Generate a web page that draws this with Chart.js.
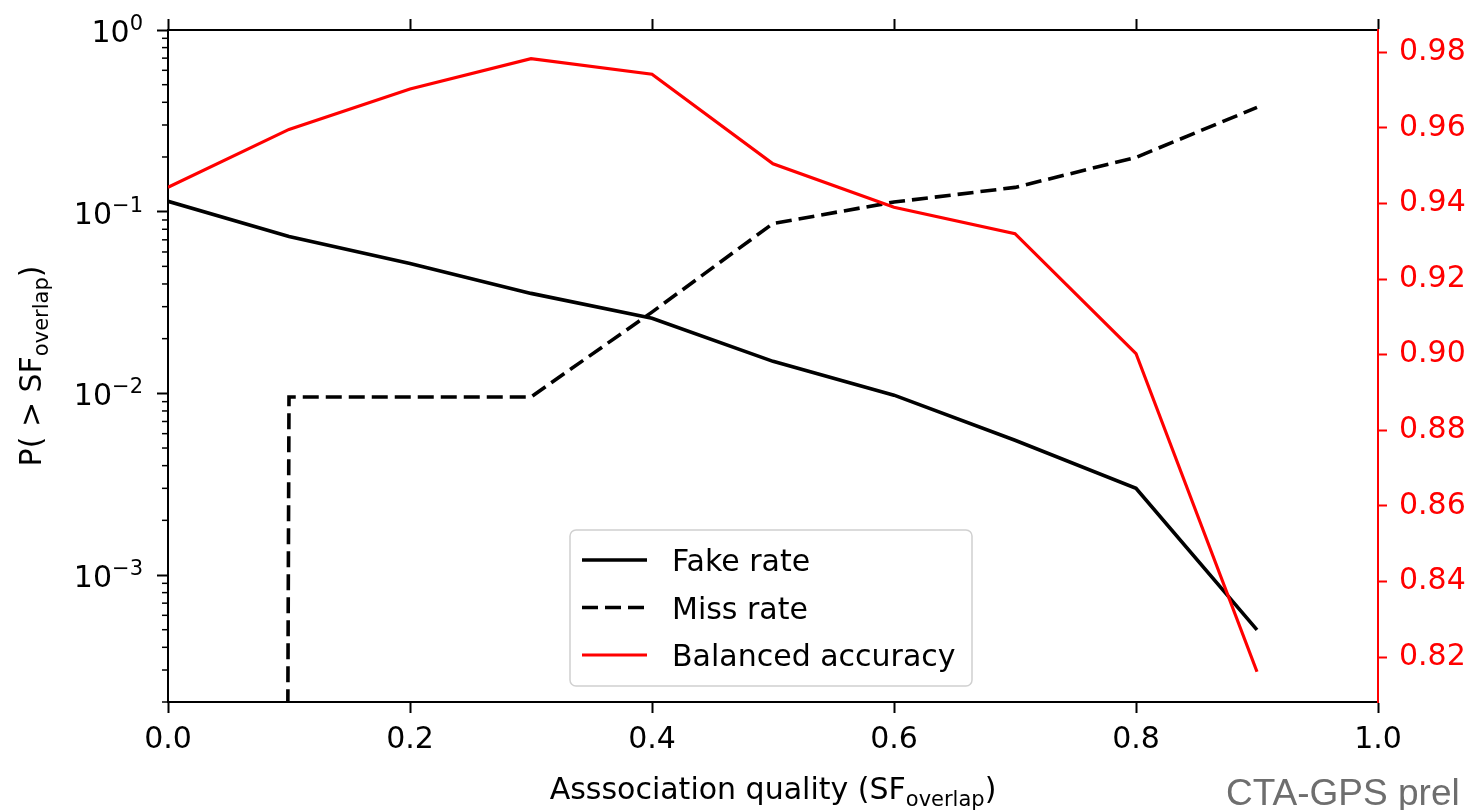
<!DOCTYPE html>
<html>
<head>
<meta charset="utf-8">
<script src="https://cdn.jsdelivr.net/npm/chart.js@4.4.0/dist/chart.umd.min.js"></script>
<style>
  html, body { margin: 0; padding: 0; background: #fff; overflow: hidden; }
  #wrap { position: relative; width: 1468px; height: 810px; }
</style>
</head>
<body>
<div id="wrap"><canvas id="chart"></canvas></div>
<script>
// association quality threshold (x)
const sfOverlap = [0.0, 0.1, 0.2, 0.3, 0.4, 0.5, 0.6, 0.7, 0.8, 0.9];
// left axis, log: P(> SF_overlap)
const fakeRate = [0.114, 0.0731, 0.0519, 0.0355, 0.0259, 0.0150, 0.00977, 0.00552, 0.0030, 0.000499];
const missRate = [0, 0.00955, 0.00955, 0.00955, 0.028, 0.0861, 0.113, 0.136, 0.199, 0.375];
// right axis: balanced accuracy
const balancedAccuracy = [0.9443, 0.9596, 0.9703, 0.9783, 0.9742, 0.9505, 0.9390, 0.9320, 0.9003, 0.8161];

// ticks
const xTicks = [0, 0.2, 0.4, 0.6, 0.8, 1.0];
const logTicks = [1e-3, 1e-2, 1e-1, 1];
const accTicks = [0.82, 0.84, 0.86, 0.88, 0.90, 0.92, 0.94, 0.96, 0.98];

const FONT = '"DejaVu Sans", sans-serif';
Chart.defaults.font.family = FONT;
Chart.defaults.font.size = 30;
Chart.defaults.color = '#000';

// zero is off a log axis: push it far below so the line drops out of the frame (like mpl clip)
const pts = (ys) => sfOverlap.map((x, i) => ({x: x, y: ys[i] > 0 ? ys[i] : 1e-300}));

function setTicks(list) {
  return (scale) => { scale.ticks = list.map(v => ({value: v})); };
}

// text with a subscript part
function drawSub(ctx, main, sub, tail, x, y) {
  ctx.font = '30px ' + FONT;
  const w1 = ctx.measureText(main).width;
  const w3 = ctx.measureText(tail).width;
  ctx.font = '21px ' + FONT;
  const w2 = ctx.measureText(sub).width;
  let cx = x - (w1 + w2 + w3) / 2;
  ctx.textAlign = 'left';
  ctx.textBaseline = 'alphabetic';
  ctx.font = '30px ' + FONT;
  ctx.fillText(main, cx, y);
  cx += w1;
  ctx.font = '21px ' + FONT;
  ctx.fillText(sub, cx, y + 7);
  cx += w2;
  ctx.font = '30px ' + FONT;
  ctx.fillText(tail, cx, y);
}

const decor = {
  id: 'decor',
  afterDraw(chart) {
    const ctx = chart.ctx;
    const a = chart.chartArea;
    const ys = chart.scales.y;
    ctx.save();

    // minor ticks of the log axis
    ctx.strokeStyle = '#000';
    ctx.lineWidth = 1.5;
    for (let e = -4; e < 0; e++) {
      for (let m = 2; m <= 9; m++) {
        const v = m * Math.pow(10, e);
        if (v < ys.min * 0.999 || v > ys.max) continue;
        const py = ys.getPixelForValue(v);
        ctx.beginPath();
        ctx.moveTo(a.left - 6, py);
        ctx.lineTo(a.left, py);
        ctx.stroke();
      }
    }

    // log tick labels 10^k with a real superscript
    ctx.fillStyle = '#000';
    ctx.textAlign = 'left';
    ctx.textBaseline = 'alphabetic';
    ys.ticks.forEach(t => {
      const e = Math.round(Math.log10(t.value));
      const sup = e === 0 ? '0' : '\u2212' + Math.abs(e);
      const py = ys.getPixelForValue(t.value);
      ctx.font = '21px ' + FONT;
      const ws = ctx.measureText(sup).width;
      ctx.font = '30px ' + FONT;
      const wm = ctx.measureText('10').width;
      const right = a.left - 11 - 14;
      ctx.fillText('10', right - ws - wm, py + 12);
      ctx.font = '21px ' + FONT;
      ctx.fillText(sup, right - ws, py);
    });

    // axis titles
    drawSub(ctx, 'Asssociation quality (SF', 'overlap', ')', (a.left + a.right) / 2, 799);
    ctx.save();
    ctx.translate(41, (a.top + a.bottom) / 2);
    ctx.rotate(-Math.PI / 2);
    drawSub(ctx, 'P( > SF', 'overlap', ')', 0, 0);
    ctx.restore();

    // legend
    const bx = 570, by = 530, bw = 402, bh = 156;
    ctx.beginPath();
    ctx.roundRect(bx, by, bw, bh, 6);
    ctx.fillStyle = 'rgba(255,255,255,0.8)';
    ctx.fill();
    ctx.strokeStyle = '#d0d0d0';
    ctx.lineWidth = 1.5;
    ctx.stroke();
    chart.data.datasets.forEach((ds, i) => {
      const ry = 560 + i * 47.5;
      ctx.beginPath();
      ctx.setLineDash(ds.borderDash || []);
      ctx.strokeStyle = ds.borderColor;
      ctx.lineWidth = ds.borderWidth;
      ctx.moveTo(582, ry);
      ctx.lineTo(647, ry);
      ctx.stroke();
      ctx.setLineDash([]);
      ctx.fillStyle = '#000';
      ctx.font = '30px ' + FONT;
      ctx.textAlign = 'left';
      ctx.textBaseline = 'alphabetic';
      ctx.fillText(ds.label, 672, ry + 11);
    });

    // watermark at bottom right
    ctx.fillStyle = '#6e6e6e';
    ctx.font = '37px "Liberation Sans", Arial, sans-serif';
    ctx.textAlign = 'left';
    ctx.fillText('CTA-GPS prel', 1226, 805);

    ctx.restore();
  }
};

const tickGrid = (color, len) => ({
  drawOnChartArea: false,
  drawTicks: true,
  tickLength: len,
  tickColor: color,
  tickWidth: 2
});

new Chart(document.getElementById('chart'), {
  type: 'line',
  data: {
    datasets: [
      {
        label: 'Fake rate',
        data: pts(fakeRate),
        yAxisID: 'y',
        borderColor: '#000',
        borderWidth: 3.6,
        order: 1
      },
      {
        label: 'Miss rate',
        data: pts(missRate),
        yAxisID: 'y',
        borderColor: '#000',
        borderWidth: 3.6,
        borderDash: [16, 7],
        order: 1
      },
      {
        label: 'Balanced accuracy',
        data: pts(balancedAccuracy),
        yAxisID: 'y2',
        borderColor: '#ff0000',
        borderWidth: 3.2,
        order: 0
      }
    ]
  },
  options: {
    responsive: true,
    maintainAspectRatio: false,
    animation: false,
    layout: { padding: 0 },
    elements: { point: { radius: 0 }, line: { tension: 0 } },
    plugins: {
      legend: { display: false },
      tooltip: { enabled: false }
    },
    scales: {
      x: {
        type: 'linear',
        position: 'bottom',
        min: 0,
        max: 1,
        afterBuildTicks: setTicks(xTicks),
        afterFit: (s) => { s.height = 108; },
        ticks: { padding: 9, maxRotation: 0, autoSkip: false, callback: (v) => v.toFixed(1) },
        grid: tickGrid('#000', 11),
        border: { color: '#000', width: 2 }
      },
      x2: {
        type: 'linear',
        axis: 'x',
        position: 'top',
        min: 0,
        max: 1,
        afterBuildTicks: setTicks(xTicks),
        afterFit: (s) => { s.height = 29; },
        ticks: { display: false },
        grid: tickGrid('#000', 11),
        border: { color: '#000', width: 2 }
      },
      y: {
        type: 'logarithmic',
        position: 'left',
        min: 2e-4,
        max: 1,
        afterBuildTicks: setTicks(logTicks),
        afterFit: (s) => { s.width = 168; },
        ticks: { display: false },
        grid: tickGrid('#000', 11),
        border: { color: '#000', width: 2 }
      },
      y2: {
        type: 'linear',
        position: 'right',
        min: 0.8081,
        max: 0.9859,
        afterBuildTicks: setTicks(accTicks),
        afterFit: (s) => { s.width = 90; },
        ticks: { padding: 12, color: '#ff0000', autoSkip: false, callback: (v) => v.toFixed(2) },
        grid: tickGrid('#ff0000', 9),
        border: { color: '#ff0000', width: 2 }
      }
    }
  },
  plugins: [decor]
});
</script>
</body>
</html>
